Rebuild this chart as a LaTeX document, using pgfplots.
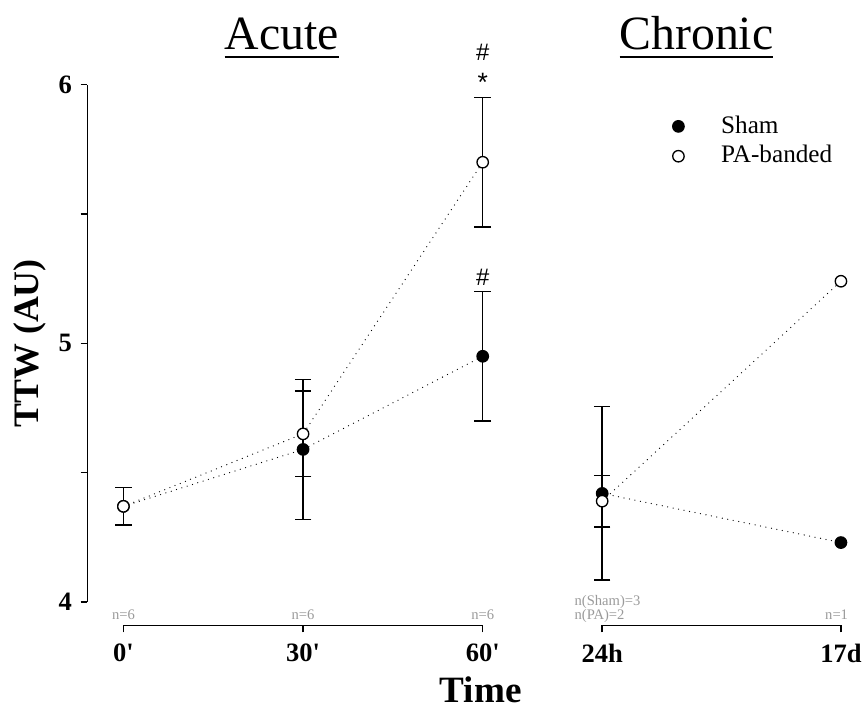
\documentclass[border=0pt]{standalone}
\usepackage{fontspec}
\setmainfont{Liberation Serif}
\newfontfamily\sansfont{Liberation Sans}
\usepackage{pgfplots}
\pgfplotsset{compat=1.18}
\definecolor{ngray}{HTML}{9A9A9A}

\pgfplotsset{
  eb/.style={error bars/y dir=both, error bars/y explicit, error bars/error mark=|,
    error bars/error mark options={black, solid, line width=1.1pt, mark size=6.25pt},
    error bars/error bar style={black, solid, line width=1.1pt}},
  dots/.style={black, line width=0.95pt, line cap=round, dash pattern=on 0pt off 4.2pt, no markers},
  sham/.style={only marks, mark=*, mark size=4.3pt, mark options={black, solid, fill=black, line width=1pt}},
  pa/.style={only marks, mark=*, mark size=4.3pt, mark options={black, solid, fill=white, line width=1pt}},
}
\newcommand{\ul}[1]{{\setbox0\hbox{#1}\rlap{\rule[-6pt]{\wd0}{1.5pt}}\box0}}

\begin{document}
\begin{tikzpicture}
\begin{axis}[
  scale only axis, width=582.2pt, height=407.55pt,
  xmin=-0.2, xmax=4.1, ymin=3.91, ymax=6,
  clip=false,
  axis line style={draw=none},
  tick align=outside, tick pos=left,
  major tick length=5.25pt, minor tick length=5.25pt,
  every tick/.style={black, line width=1.1pt},
  xtick={0,1,2,2.665,3.994},
  xticklabels={0\textquotesingle,30\textquotesingle,60\textquotesingle,24h,17d},
  ytick={4,5,6}, yticklabels={4,5,6}, minor ytick={4.5,5.5},
  ticklabel style={font=\fontsize{20}{24}\selectfont\bfseries},
  xticklabel style={yshift=-5pt},
  yticklabel style={xshift=-3pt},
  legend image code/.code={\path (0pt,0pt) (38pt,0pt); \draw[mark repeat=2,mark phase=2,#1] plot coordinates {(0pt,0pt) (6pt,0pt) (12pt,0pt)};},
  legend cell align=left,
  legend style={at={(axis cs:3.02,5.896)}, anchor=north west, draw=none, fill=none,
    font=\fontsize{19}{22}\selectfont, row sep=4.5pt,
    nodes={inner sep=0pt, text height=14pt, text depth=4pt}},
]
% axis lines, R style
\draw[black, line width=1.1pt] (axis cs:-0.2,4) -- (axis cs:-0.2,6);
\draw[black, line width=1.1pt] (axis cs:0,3.91) -- (axis cs:2,3.91);
\draw[black, line width=1.1pt] (axis cs:2.665,3.91) -- (axis cs:3.994,3.91);
\path (axis cs:-0.687,3.577) rectangle (axis cs:4.111,6.327);

% connecting lines
\addplot[forget plot, dots] coordinates {(0,4.37) (1,4.59) (2,4.95)};
\addplot[forget plot, dots] coordinates {(0,4.37) (1,4.65) (2,5.70)};
\addplot[forget plot, dots] coordinates {(2.665,4.42) (3.994,4.23)};
\addplot[forget plot, dots] coordinates {(2.665,4.39) (3.994,5.24)};

% acute, mean +- SE
\addplot[forget plot, sham, eb] coordinates {
  (0,4.37) +- (0,0.072)
  (1,4.59) +- (0,0.27)
  (2,4.95) +- (0,0.25)
};
\addplot[forget plot, pa, eb] coordinates {
  (0,4.37) +- (0,0.072)
  (1,4.65) +- (0,0.165)
  (2,5.70) +- (0,0.25)
};
% chronic
\addplot[forget plot, sham, eb] coordinates {(2.665,4.42) +- (0,0.335)};
\addplot[forget plot, pa, eb] coordinates {(2.665,4.39) +- (0,0.10)};
\addplot[forget plot, sham] coordinates {(3.994,4.23)};
\addplot[forget plot, pa] coordinates {(3.994,5.24)};

\addlegendimage{only marks, mark=*, mark size=4.3pt, mark options={fill=black, line width=1pt}}
\addlegendentry{Sham}
\addlegendimage{only marks, mark=*, mark size=4.3pt, mark options={fill=white, line width=1pt}}
\addlegendentry{PA-banded}

% titles
\node[anchor=base, inner sep=0pt, font=\fontsize{36}{40}\selectfont] at (axis cs:0.881,6.135) {\ul{Acute}};
\node[anchor=base, inner sep=0pt, font=\fontsize{36}{40}\selectfont] at (axis cs:3.19,6.135) {\ul{Chronic}};
\node[rotate=90, inner sep=0pt, font=\fontsize{27}{30}\selectfont\bfseries] at (axis cs:-0.521,5.0) {TTW (AU)};
\node[anchor=base, inner sep=0pt, font=\fontsize{28}{30}\selectfont\bfseries] at (axis cs:1.989,3.613) {Time};

% significance marks
\node[anchor=base, font=\sansfont\fontsize{18}{20}\selectfont] at (axis cs:2,6.092) {\#};
\node[anchor=base, font=\sansfont\fontsize{20}{20}\selectfont] at (axis cs:2,5.975) {*};
\node[anchor=base, font=\sansfont\fontsize{18}{20}\selectfont] at (axis cs:2,5.225) {\#};

% sample sizes
\begin{scope}[every node/.style={text=ngray, font=\fontsize{11}{12}\selectfont, inner sep=0pt}]
\node[anchor=base] at (axis cs:0,3.932) {n=6};
\node[anchor=base] at (axis cs:1,3.932) {n=6};
\node[anchor=base] at (axis cs:2,3.932) {n=6};
\node[anchor=base west] at (axis cs:2.51,3.986) {n(Sham)=3};
\node[anchor=base west] at (axis cs:2.51,3.932) {n(PA)=2};
\node[anchor=base east] at (axis cs:4.035,3.932) {n=1};
\end{scope}
\end{axis}
\end{tikzpicture}
\end{document}
